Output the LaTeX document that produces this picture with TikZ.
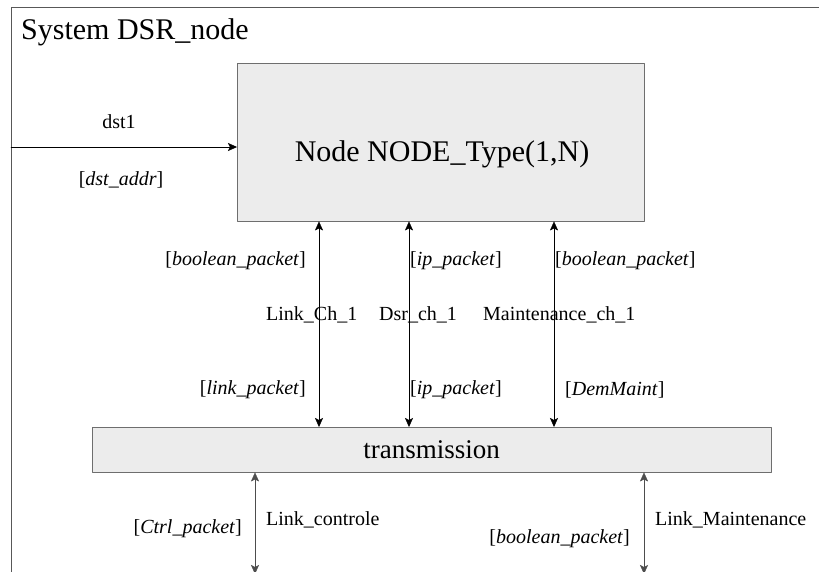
\documentclass[tikz,border=0pt]{standalone}
\usepackage{fontspec}
\setmainfont{Liberation Serif}
\usetikzlibrary{arrows.meta}
\definecolor{boxgray}{RGB}{236,236,236}
\definecolor{edgegray}{RGB}{110,110,110}

\begin{document}
\begin{tikzpicture}[line cap=round,line join=round,>={Stealth[length=9pt,width=8pt,inset=2pt]},x=1pt,y=-1pt,
  block/.style={draw=edgegray, fill=boxgray, inner sep=0pt, anchor=north west},
  lbl/.style={font=\fontsize{20}{22}\selectfont, inner sep=0pt}]
\useasboundingbox (0,0) rectangle (819,571);
% system frame
\draw[color=edgegray!80!black] (11,590)--(11,7)--(840,7);
\node[anchor=west, font=\fontsize{30}{32}\selectfont, inner sep=0pt] (sys) at (21,32) {System DSR\_node};
% blocks
\node[block, minimum width=407, minimum height=158] (node) at (237,63) {};
\node[font=\fontsize{30}{32}\selectfont, inner sep=0pt] (nodetxt) at (442,154) {Node NODE\_Type(1,N)};
\node[block, minimum width=679, minimum height=45, font=\fontsize{27}{29}\selectfont] (trans) at (92,427) {transmission};
% channel positions
\coordinate (in) at (11,147);
\coordinate (lk) at (319,0);
\coordinate (ds) at (409,0);
\coordinate (mt) at (554,0);
\coordinate (ctl) at (255,574);
\coordinate (lm) at (644,574);
% connectors
\draw[->] (in) -- (node.west |- in);
\draw[<->] (node.south -| lk) -- (trans.north -| lk);
\draw[<->] (node.south -| ds) -- (trans.north -| ds);
\draw[<->] (node.south -| mt) -- (trans.north -| mt);
\draw[<->, color=edgegray!70!black] (trans.south -| ctl) -- (ctl);
\draw[<->, color=edgegray!70!black] (trans.south -| lm) -- (lm);
% labels
\node[lbl] (dstname) at (119,122) {dst1};
\node[lbl] (dsttype) at (121,180) {[\textit{dst\_addr}]};
\node[lbl, anchor=east] (lkup) at (306,261) {[\textit{boolean\_packet}]};
\node[lbl, anchor=west] (dsup) at (410,261) {[\textit{ip\_packet}]};
\node[lbl, anchor=west] (mtup) at (555,261) {[\textit{boolean\_packet}]};
\node[lbl, anchor=west] (lkname) at (266,315) {Link\_Ch\_1};
\node[lbl, anchor=west] (dsname) at (379,315) {Dsr\_ch\_1};
\node[lbl, anchor=west] (mtname) at (483,315) {Maintenance\_ch\_1};
\node[lbl, anchor=east] (lkdown) at (306,390) {[\textit{link\_packet}]};
\node[lbl, anchor=west] (dsdown) at (410,390) {[\textit{ip\_packet}]};
\node[lbl, anchor=west] (mtdown) at (565,390) {[\textit{DemMaint}]};
\node[lbl, anchor=east] (ctltype) at (242,529) {[\textit{Ctrl\_packet}]};
\node[lbl, anchor=west] (ctlname) at (266,520) {Link\_controle};
\node[lbl, anchor=east] (lmtype) at (630,539) {[\textit{boolean\_packet}]};
\node[lbl, anchor=west] (lmname) at (655,520) {Link\_Maintenance};
\end{tikzpicture}
\end{document}
